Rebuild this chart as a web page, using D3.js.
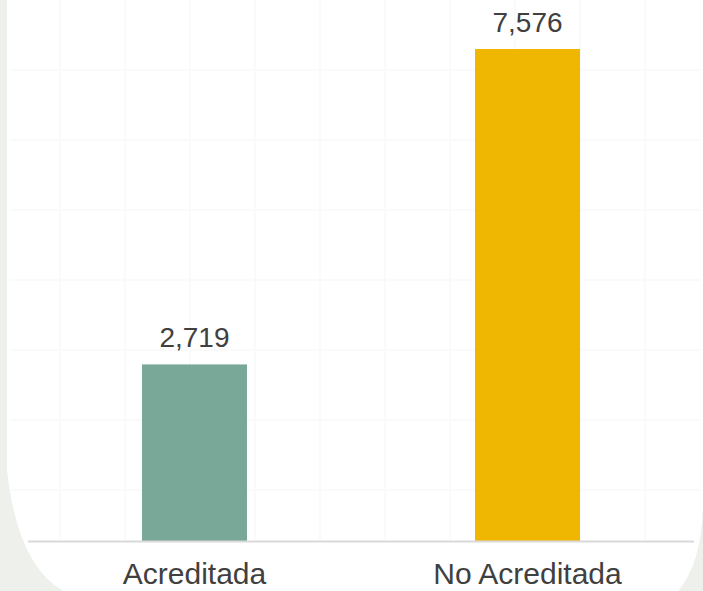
<!DOCTYPE html>
<html><head><meta charset="utf-8">
<script src="https://cdn.jsdelivr.net/npm/d3@7/dist/d3.min.js"></script>
<style>html,body{margin:0;padding:0;background:#fff;}svg{display:block;}</style>
</head><body>
<script>
const categories = ["Acreditada", "No Acreditada"];
const values = [2719, 7576];
const colors = ["#79A898", "#F0B702"];

const W = 703, H = 591;
const svg = d3.select("body").append("svg").attr("width", W).attr("height", H);

// background panel
svg.append("rect").attr("width", W).attr("height", H).attr("fill", "#eef0ec");
svg.append("path")
  .attr("d", "M7,0 H703 V500 Q703,570 670,600 H90 Q20,590 7,470 Z")
  .attr("fill", "#ffffff");
// faint texture grid
const g0 = svg.append("g").attr("stroke", "#fafaf8").attr("stroke-width", 2);
d3.range(60, W, 65).forEach(x => g0.append("line").attr("x1", x).attr("x2", x).attr("y1", 0).attr("y2", 540));
d3.range(70, 540, 70).forEach(y => g0.append("line").attr("x1", 10).attr("x2", 700).attr("y1", y).attr("y2", y));

const x = d3.scaleBand().domain(categories).range([28, 694]).paddingInner(0.6847).paddingOuter(0.3423);
const y = d3.scaleLinear().domain([0, 7576]).range([541, 49]);

svg.append("g").selectAll("rect").data(categories).join("rect")
  .attr("x", d => x(d)).attr("width", x.bandwidth())
  .attr("y", (d, i) => y(values[i])).attr("height", (d, i) => y(0) - y(values[i]))
  .attr("fill", (d, i) => colors[i]);

svg.append("line").attr("x1", 28).attr("x2", 694).attr("y1", y(0) + 0.5).attr("y2", y(0) + 0.5)
  .attr("stroke", "#d9d9d9").attr("stroke-width", 2);

const fmt = d3.format(",");
svg.append("g").selectAll("text").data(categories).join("text")
  .attr("x", d => x(d) + x.bandwidth() / 2)
  .attr("y", (d, i) => y(values[i]) - 17)
  .attr("text-anchor", "middle")
  .attr("font-family", "Liberation Sans, Arial, sans-serif")
  .attr("font-size", 28).attr("fill", "#404040")
  .text((d, i) => fmt(values[i]));

svg.append("g").selectAll("text").data(categories).join("text")
  .attr("x", d => x(d) + x.bandwidth() / 2)
  .attr("y", 584)
  .attr("text-anchor", "middle")
  .attr("font-family", "Liberation Sans, Arial, sans-serif")
  .attr("font-size", 30).attr("fill", "#404040")
  .text(d => d);
</script>
</body></html>
